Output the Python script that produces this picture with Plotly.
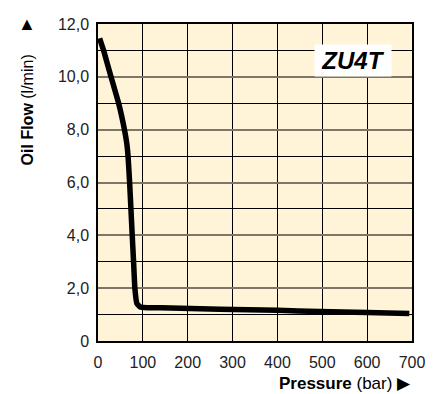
import plotly.graph_objects as go

# Curve (pressure in bar, oil flow in l/min)
pressure = [3.6, 12.5, 29, 46, 59, 64, 67, 70.5, 73.4, 76.3, 79.3, 82.2, 86.7, 94, 110, 140, 272, 400, 494, 600, 694]
oil_flow = [11.46, 11.0, 10.0, 9.0, 8.0, 7.5, 7.0, 6.0, 5.0, 4.0, 3.0, 2.0, 1.42, 1.29, 1.26, 1.26, 1.2, 1.16, 1.12, 1.08, 1.04]

x_ticks = [0, 100, 200, 300, 400, 500, 600, 700]
y_ticks = [0, 2, 4, 6, 8, 10, 12]
y_labels = ["0", "2,0", "4,0", "6,0", "8,0", "10,0", "12,0"]

FONT = "Liberation Sans, Arial, sans-serif"

fig = go.Figure()
fig.add_trace(go.Scatter(
    x=pressure, y=oil_flow, mode="lines",
    line=dict(color="black", width=5.5, shape="spline", smoothing=0.3),
    hoverinfo="skip",
))

fig.update_xaxes(
    range=[0, 700], tickvals=x_ticks, ticks="", showline=True,
    linecolor="black", linewidth=1.5, mirror=True,
    showgrid=True, gridcolor="black", gridwidth=1, zeroline=False,
    tickfont=dict(family=FONT, size=16, color="#222"),
    ticklabelstandoff=6, automargin=False,
)
fig.update_yaxes(
    range=[0, 12], tickvals=y_ticks, ticktext=y_labels, ticks="",
    showline=True, linecolor="black", linewidth=1.5, mirror=True,
    showgrid=True, gridcolor="#7d7666", gridwidth=1.5, zeroline=False,
    minor=dict(dtick=1, showgrid=True, gridcolor="black", gridwidth=1),
    tickfont=dict(family=FONT, size=16, color="#222"),
    ticklabelstandoff=4, automargin=False,
)

# model tag in the upper right
fig.add_annotation(
    x=569, y=10.6, xref="x", yref="y", showarrow=False,
    text="<b><i>ZU4T</i></b>", font=dict(family=FONT, size=24, color="black"),
    bgcolor="white", borderpad=1, width=74, height=29,
)
# axis titles (page has an 8px body margin, so figure coords are shifted)
fig.add_annotation(
    x=-0.225, y=0.91, xref="paper", yref="paper", showarrow=False,
    xanchor="center", yanchor="top", textangle=-90,
    text="<b>Oil Flow</b> (l/min)", font=dict(family=FONT, size=16, color="black"),
)
fig.add_annotation(
    x=-0.225, y=1.0, xref="paper", yref="paper", showarrow=False,
    xanchor="center", yanchor="middle",
    text="▲", font=dict(family=FONT, size=18, color="black"),
)
fig.add_annotation(
    x=1.002, y=-0.134, xref="paper", yref="paper", showarrow=False,
    xanchor="right", yanchor="middle",
    text="<b>Pressure</b> (bar) ▶", font=dict(family=FONT, size=17, color="black"),
)

fig.update_layout(
    width=432, height=386,
    margin=dict(l=90, r=28, t=16, b=53),
    plot_bgcolor="#fff4d8", paper_bgcolor="white",
    showlegend=False,
)

fig.write_html("out.html")
